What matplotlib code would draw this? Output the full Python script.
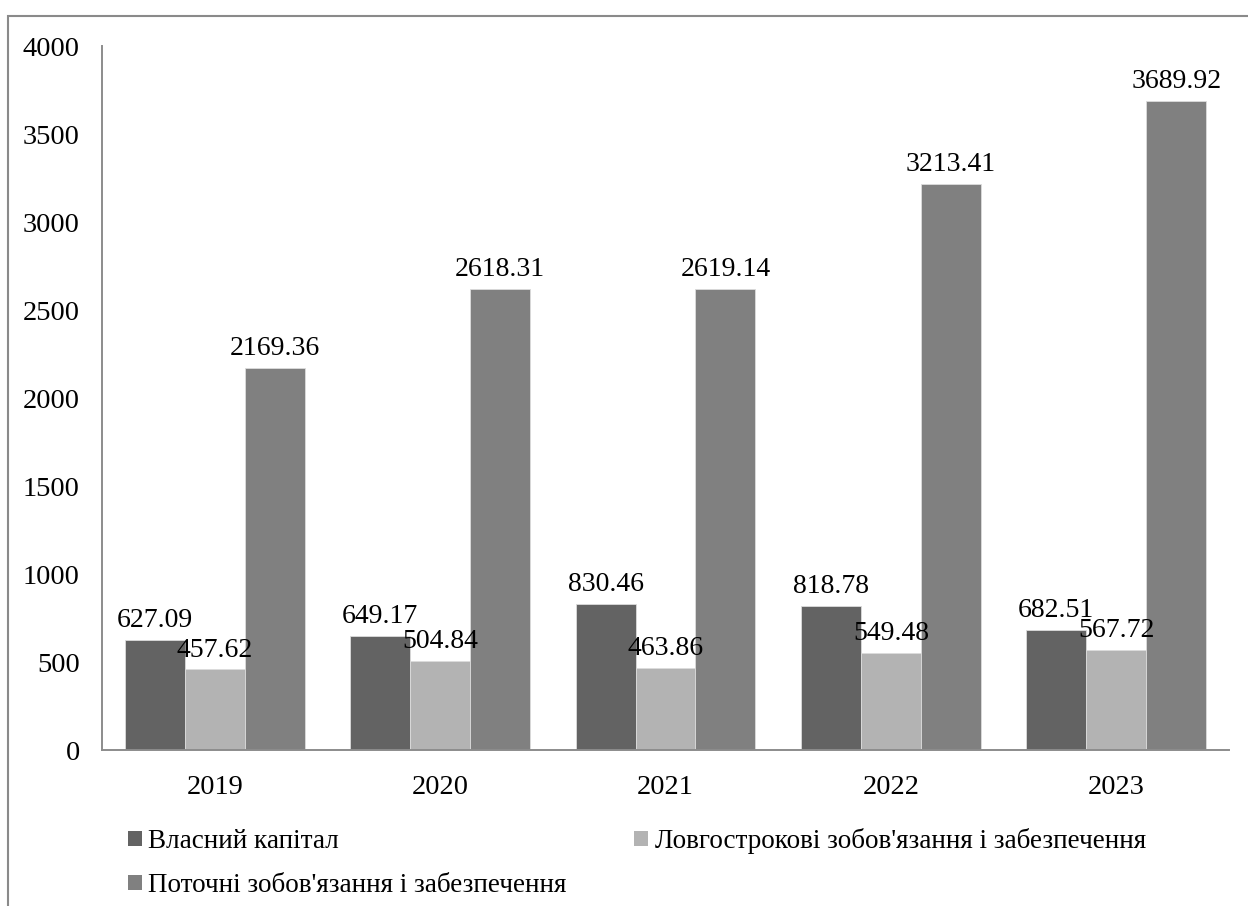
import numpy as np
import matplotlib
matplotlib.use("Agg")
from matplotlib import pyplot as plt
from matplotlib.patches import Patch, Rectangle

years = ["2019", "2020", "2021", "2022", "2023"]
equity = [627.09, 649.17, 830.46, 818.78, 682.51]
long_term = [457.62, 504.84, 463.86, 549.48, 567.72]
current = [2169.36, 2618.31, 2619.14, 3213.41, 3689.92]

series_names = [
    "Власний капітал",
    "Ловгострокові зобов'язання і забезпечення",
    "Поточні зобов'язання і забезпечення",
]
series_colors = ["#636363", "#b3b3b3", "#808080"]

plt.rcParams["font.family"] = ["Liberation Serif", "DejaVu Serif"]
plt.rcParams["font.size"] = 20

W, H = 1248, 906
fig = plt.figure(figsize=(W / 100, H / 100), dpi=100)
ax = fig.add_axes([102 / W, 1 - 750 / H, 1127 / W, 704 / H])

x = np.arange(len(years))
width = 0.266
for i, (vals, color) in enumerate(zip([equity, long_term, current], series_colors)):
    pos = x + (i - 1) * width
    ax.bar(pos, vals, width, color=color, edgecolor="#dcdcdc", linewidth=0.6)
    for px, v in zip(pos, vals):
        ax.annotate(f"{v:.2f}", (px, v), xytext=(0, 5), textcoords="offset points",
                    ha="center", va="bottom", fontsize=20)

ax.set_xlim(-0.5, len(years) - 0.5)
ax.set_ylim(0, 4000)
ax.set_yticks(np.arange(0, 4001, 500))
ax.set_xticks(x)
ax.set_xticklabels(years)
ax.tick_params(axis="both", length=0, labelsize=20.5)
ax.tick_params(axis="y", pad=16)
ax.tick_params(axis="x", pad=18)
for side in ["top", "right"]:
    ax.spines[side].set_visible(False)
for side in ["left", "bottom"]:
    ax.spines[side].set_color("#8c8c8c")
    ax.spines[side].set_linewidth(1.4)

# legend reads row by row: first two items on top, third below
handles = [Patch(facecolor=c) for c in series_colors]
order = [0, 2, 1]
fig.legend([handles[i] for i in order], [series_names[i] for i in order],
           ncol=2, frameon=False, loc="upper left",
           bbox_to_anchor=(128 / W, 1 - 828 / H), borderpad=0, borderaxespad=0,
           handlelength=0.5, handleheight=0.5, handletextpad=0.25,
           columnspacing=2.5, labelspacing=0.7, fontsize=19.5)

# outer chart border
fig.patches.append(Rectangle((8 / W, -0.05), 1.1, 1 - 16 / H + 0.05,
                             transform=fig.transFigure, fill=False,
                             edgecolor="#8a8a8a", linewidth=1.5))

fig.savefig("out.png", dpi=100)
